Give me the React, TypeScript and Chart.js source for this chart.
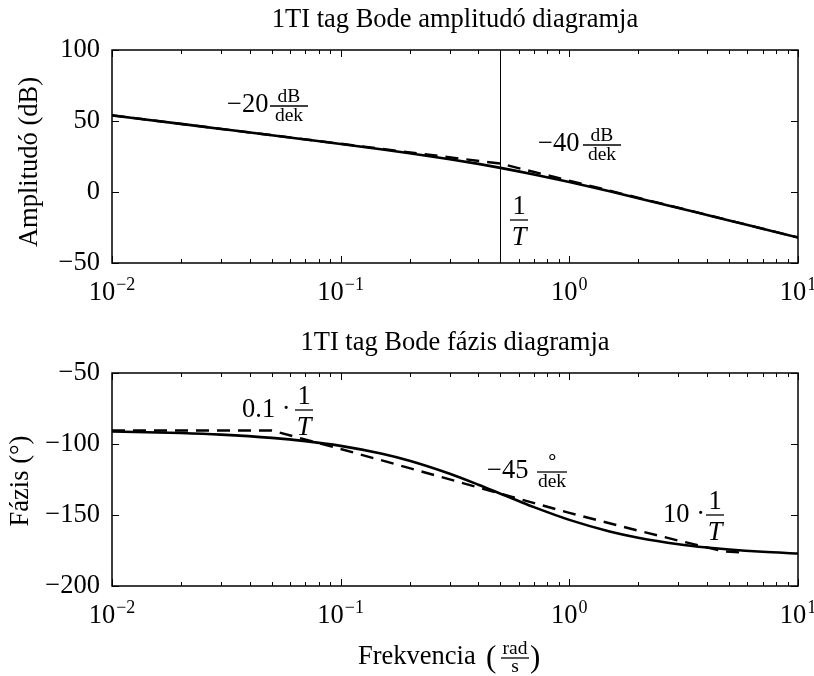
import React, { useEffect, useRef } from 'react';
import { Chart, registerables } from 'chart.js';
Chart.register(...registerables);

// ---- data ----
const FREQ = [0.01, 0.02, 0.03, 0.05, 0.07, 0.1, 0.15, 0.2, 0.3, 0.4, 0.5, 0.6, 0.7, 1, 1.5, 2, 3, 4, 5, 7, 10];
const AMP = [54.0, 47.95, 44.42, 39.96, 36.99, 33.81, 30.08, 27.31, 23.1, 19.79, 16.99, 14.54, 12.37, 6.99, 0.46, -4.35, -11.24, -16.19, -20.04, -25.87, -32.05];
const AMP_ASYM_FREQ = [0.01, 0.5, 10];
const AMP_ASYM = [54.0, 20.0, -32.0];
const BREAK_FREQ = 0.5;
const PHASE = [-91.15, -92.29, -93.43, -95.71, -97.97, -101.31, -106.7, -111.8, -120.96, -128.66, -135.0, -140.19, -144.46, -153.43, -161.57, -165.96, -170.54, -172.87, -174.29, -175.91, -177.14];
const PHASE_ASYM_FREQ = [0.01, 0.05, 0.1, 0.2, 0.5, 1, 2, 3, 4.7, 5.7];
const PHASE_ASYM = [-90.5, -90.5, -103.5, -117, -135, -148.5, -161, -168, -175.5, -176.5];

const X_TICKS = [0.01, 0.02, 0.03, 0.04, 0.05, 0.06, 0.07, 0.08, 0.09, 0.1, 0.2, 0.3, 0.4, 0.5, 0.6, 0.7, 0.8, 0.9, 1, 2, 3, 4, 5, 6, 7, 8, 9, 10];
const X_MAJOR = [0.01, 0.1, 1, 10];
const X_EXP = ['\u2212' + '2', '\u2212' + '1', '0', '1'];
const AMP_RANGE = [-50, 100];
const PHASE_RANGE = [-200, -50];
const Y_STEP = 50;

const TITLE_AMP = '1TI tag Bode amplitudó diagramja';
const TITLE_PHASE = '1TI tag Bode fázis diagramja';
const YLABEL_AMP = 'Amplitudó (dB)';
const YLABEL_PHASE = 'Fázis (°)';
const XLABEL = 'Frekvencia';

const FF = '"Liberation Serif", "Times New Roman", serif';
const F26 = `26.5px ${FF}`;
const F19 = `19.5px ${FF}`;
const F18 = `18px ${FF}`;
const FIT = `italic 26.5px ${FF}`;

const fmt = (v: number) => (v < 0 ? '\u2212' + Math.abs(v) : String(v));

function line(ctx: CanvasRenderingContext2D, x1: number, y1: number, x2: number, y2: number) {
  ctx.beginPath();
  ctx.moveTo(x1, y1);
  ctx.lineTo(x2, y2);
  ctx.stroke();
}

function frac(ctx: CanvasRenderingContext2D, cx: number, barY: number, num: string, den: string, numFont: string, denFont: string, barW: number, numGap: number, denGap: number) {
  ctx.textAlign = 'center';
  ctx.textBaseline = 'alphabetic';
  ctx.font = numFont;
  ctx.fillText(num, cx, barY - numGap);
  ctx.font = denFont;
  ctx.fillText(den, cx, barY + denGap);
  ctx.lineWidth = 1.3;
  line(ctx, cx - barW / 2, barY, cx + barW / 2, barY);
}

function text(ctx: CanvasRenderingContext2D, s: string, x: number, y: number, font: string, align: CanvasTextAlign = 'left') {
  ctx.font = font;
  ctx.textAlign = align;
  ctx.textBaseline = 'alphabetic';
  ctx.fillText(s, x, y);
}

function makePlugin(offset: number, extra: (ctx: CanvasRenderingContext2D) => void, title: string, ylabel: string, ylabelX: number, ylabelY: number) {
  return {
    id: 'bodeDecor' + offset,
    afterDraw(chart: any) {
      const { ctx, chartArea: a, scales } = chart;
      const xs = scales.x;
      const ys = scales.y;
      ctx.save();
      ctx.strokeStyle = '#000';
      ctx.fillStyle = '#000';
      ctx.lineWidth = 1.5;
      ctx.strokeRect(a.left, a.top, a.right - a.left, a.bottom - a.top);
      ctx.lineWidth = 1;
      for (const v of X_TICKS) {
        const px = Math.round(xs.getPixelForValue(v)) + 0.5;
        const len = X_MAJOR.includes(v) ? 7 : 4;
        line(ctx, px, a.bottom, px, a.bottom - len);
        line(ctx, px, a.top, px, a.top + len);
      }
      for (const t of ys.ticks) {
        const py = Math.round(ys.getPixelForValue(t.value)) + 0.5;
        line(ctx, a.left, py, a.left + 7, py);
        line(ctx, a.right, py, a.right - 7, py);
      }
      // x tick labels with exponent
      const base = a.bottom + 37;
      X_MAJOR.forEach((v, i) => {
        const px = xs.getPixelForValue(v);
        ctx.font = F26;
        const w1 = ctx.measureText('10').width;
        ctx.font = F18;
        const w2 = ctx.measureText(X_EXP[i]).width;
        const left = px - (w1 + w2 + 1) / 2;
        text(ctx, '10', left, base, F26);
        text(ctx, X_EXP[i], left + w1 + 1, base - 10, F18);
      });
      // title
      text(ctx, title, (a.left + a.right) / 2, a.top - 23, F26, 'center');
      // y label
      ctx.save();
      ctx.translate(ylabelX, ylabelY - offset);
      ctx.rotate(-Math.PI / 2);
      text(ctx, ylabel, 0, 0, F26, 'center');
      ctx.restore();
      ctx.translate(0, -offset);
      extra(ctx);
      ctx.restore();
    },
  };
}

function ampExtra(ctx: CanvasRenderingContext2D) {
  text(ctx, '\u221220', 227, 112, F26);
  frac(ctx, 289, 106, 'dB', 'dek', F19, F19, 38, 4, 15);
  text(ctx, '\u221240', 538, 151, F26);
  frac(ctx, 602, 145, 'dB', 'dek', F19, F19, 38, 4, 15);
  frac(ctx, 519, 220, '1', 'T', F26, FIT, 18, 6, 25);
}

function phaseExtra(ctx: CanvasRenderingContext2D) {
  text(ctx, '0.1 \u00b7', 242, 417, F26);
  frac(ctx, 304, 410, '1', 'T', F26, FIT, 18, 6, 25);
  text(ctx, '\u221245', 487, 478, F26);
  frac(ctx, 552, 472, '\u2218', 'dek', F19, F19, 30, 8, 15);
  text(ctx, '10 \u00b7', 663, 522, F26);
  frac(ctx, 715, 515, '1', 'T', F26, FIT, 18, 6, 25);
  // x label
  text(ctx, XLABEL, 358, 664, F26);
  text(ctx, '(', 486, 667, `31px ${FF}`);
  frac(ctx, 515, 658, 'rad', 's', F19, F19, 28, 4, 14);
  text(ctx, ')', 530, 667, `31px ${FF}`);
}

function toPts(xs: number[], ys: number[]) {
  return xs.map((x, i) => ({ x, y: ys[i] }));
}

function makeConfig(opts: {
  solid: { x: number; y: number }[];
  dashed: { x: number; y: number }[];
  extraLine?: { x: number; y: number }[];
  yRange: number[];
  padTop: number;
  xHeight: number;
  plugin: any;
}) {
  const datasets: any[] = [
    { data: opts.dashed, borderColor: '#000', borderWidth: 2.4, borderDash: [13, 8], pointRadius: 0, tension: 0, fill: false },
    { data: opts.solid, borderColor: '#000', borderWidth: 2.6, pointRadius: 0, tension: 0, fill: false, cubicInterpolationMode: 'monotone' },
  ];
  if (opts.extraLine) {
    datasets.push({ data: opts.extraLine, borderColor: '#000', borderWidth: 1, pointRadius: 0, fill: false });
  }
  return {
    type: 'line' as const,
    data: { datasets },
    options: {
      animation: false as const,
      responsive: false,
      events: [],
      layout: { padding: { top: opts.padTop, right: 16, left: 0, bottom: 0 } },
      plugins: { legend: { display: false }, tooltip: { enabled: false }, title: { display: false } },
      scales: {
        x: {
          type: 'logarithmic' as const,
          min: X_TICKS[0],
          max: X_TICKS[X_TICKS.length - 1],
          afterBuildTicks: (s: any) => {
            s.ticks = X_TICKS.map((v) => ({ value: v, major: X_MAJOR.includes(v) }));
          },
          ticks: { display: false },
          grid: { display: false, drawTicks: false },
          border: { display: false },
          afterFit: (s: any) => {
            s.height = opts.xHeight;
          },
        },
        y: {
          type: 'linear' as const,
          min: opts.yRange[0],
          max: opts.yRange[1],
          ticks: { stepSize: Y_STEP, color: '#000', font: { family: FF, size: 26.5 }, padding: 12, callback: (v: any) => fmt(Number(v)) },
          grid: { display: false, drawTicks: false },
          border: { display: false },
          afterFit: (s: any) => {
            s.width = 112;
          },
        },
      },
    },
    plugins: [opts.plugin],
  };
}

export default function App() {
  const c1 = useRef<HTMLCanvasElement>(null);
  const c2 = useRef<HTMLCanvasElement>(null);
  useEffect(() => {
    const ch1 = new Chart(
      c1.current!,
      makeConfig({
        solid: toPts(FREQ, AMP),
        dashed: toPts(AMP_ASYM_FREQ, AMP_ASYM),
        extraLine: [
          { x: BREAK_FREQ, y: AMP_RANGE[0] },
          { x: BREAK_FREQ, y: AMP_RANGE[1] },
        ],
        yRange: AMP_RANGE,
        padTop: 50,
        xHeight: 320 - 263,
        plugin: makePlugin(0, ampExtra, TITLE_AMP, YLABEL_AMP, 37, 162),
      }) as any
    );
    const ch2 = new Chart(
      c2.current!,
      makeConfig({
        solid: toPts(FREQ, PHASE),
        dashed: toPts(PHASE_ASYM_FREQ, PHASE_ASYM),
        yRange: PHASE_RANGE,
        padTop: 373 - 320,
        xHeight: 676 - 586,
        plugin: makePlugin(320, phaseExtra, TITLE_PHASE, YLABEL_PHASE, 28, 481),
      }) as any
    );
    return () => {
      ch1.destroy();
      ch2.destroy();
    };
  }, []);
  return (
    <div style={{ position: 'absolute', left: 0, top: 0, width: 814, height: 676, background: '#fff' }}>
      <canvas ref={c1} width={814} height={320} style={{ position: 'absolute', left: 0, top: 0, width: 814, height: 320 }} />
      <canvas ref={c2} width={814} height={356} style={{ position: 'absolute', left: 0, top: 320, width: 814, height: 356 }} />
    </div>
  );
}
